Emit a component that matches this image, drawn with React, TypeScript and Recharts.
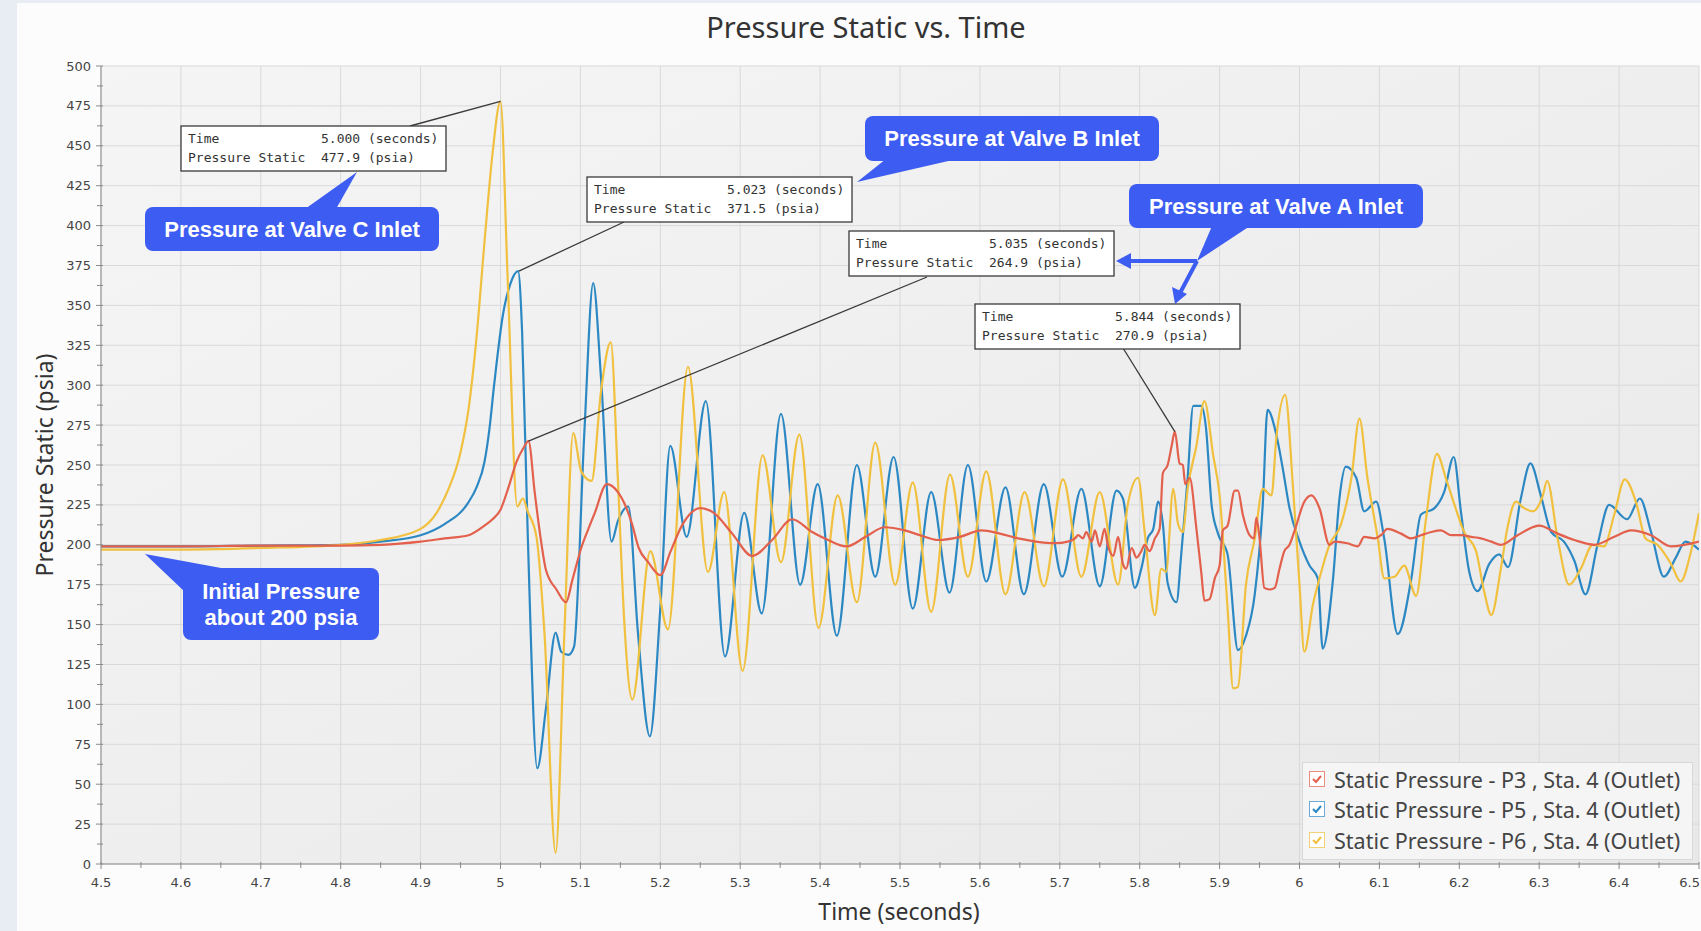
import React from "react";
import {
  LineChart,
  Line,
  XAxis,
  YAxis,
  CartesianGrid,
  Legend,
  ReferenceDot,
} from "recharts";

// axis ticks
const xMajorTicks = [4.5, 4.6, 4.7, 4.8, 4.9, 5, 5.1, 5.2, 5.3, 5.4, 5.5, 5.6, 5.7, 5.8, 5.9, 6, 6.1, 6.2, 6.3, 6.4, 6.5];
const yMajorTicks = [0, 25, 50, 75, 100, 125, 150, 175, 200, 225, 250, 275, 300, 325, 350, 375, 400, 425, 450, 475, 500];
const xMinorTicks = xMajorTicks.slice(1).map((v, i) => Math.round((v + xMajorTicks[i]) * 50) / 100);
const yMinorTicks = yMajorTicks.slice(1).map((v, i) => (v + yMajorTicks[i]) / 2);
const xAllTicks = [...xMajorTicks, ...xMinorTicks].sort((a, b) => a - b);
const yAllTicks = [...yMajorTicks, ...yMinorTicks].sort((a, b) => a - b);

// P3 (red)
const p3Time = [
  4.5, 4.6, 4.7, 4.8, 4.85, 4.9, 4.93, 4.96, 4.98, 4.99, 5.0, 5.01, 5.02, 5.028, 5.035, 5.043, 5.05, 5.057, 5.07, 5.082,
  5.09, 5.101, 5.11, 5.118, 5.133, 5.147, 5.155, 5.164, 5.173, 5.185, 5.2, 5.213, 5.227, 5.25, 5.267, 5.29, 5.315, 5.34,
  5.365, 5.39, 5.41, 5.433, 5.457, 5.481, 5.506, 5.525, 5.548, 5.575, 5.602, 5.625, 5.648, 5.67, 5.694, 5.71, 5.719, 5.723,
  5.729, 5.733, 5.74, 5.744, 5.75, 5.756, 5.76, 5.767, 5.773, 5.779, 5.783, 5.79, 5.796, 5.802, 5.806, 5.8125, 5.819, 5.825,
  5.829, 5.835, 5.84, 5.844, 5.85, 5.854, 5.857, 5.8625, 5.871, 5.877, 5.881, 5.8875, 5.894, 5.9, 5.904, 5.91, 5.919, 5.923,
  5.929, 5.9375, 5.943, 5.946, 5.95, 5.956, 5.9625, 5.969, 5.975, 5.981, 5.9875, 5.994, 6.006, 6.015, 6.025, 6.0375, 6.044,
  6.06, 6.073, 6.081, 6.094, 6.102, 6.11, 6.127, 6.14, 6.152, 6.165, 6.177, 6.19, 6.202, 6.215, 6.227, 6.24, 6.252, 6.273,
  6.3, 6.323, 6.344, 6.369, 6.394, 6.415, 6.44, 6.465, 6.5,
];
const p3Value = [
  199, 199, 199.5, 199.5, 200, 202, 204, 206, 212, 216, 222, 236, 252, 260, 264.9, 232, 205, 184, 172, 164,
  178, 198, 210, 220, 238, 233, 226, 214, 198, 189, 181, 196, 212, 223, 220, 207, 193, 203,
  216, 208, 203, 199, 205, 211, 209, 206, 203, 205, 209, 207, 204, 202, 201, 202, 204, 206,
  204, 208, 202, 209, 199, 210, 200, 193, 205, 188, 185, 198, 192, 196, 200, 196, 204, 210,
  245, 250, 262, 270.9, 251, 250, 238, 242, 210, 183, 165, 166, 179, 187, 209, 212, 234, 234,
  219, 206, 204, 217, 204, 173, 172, 173, 185, 196, 200, 209, 227, 231, 223, 200, 202,
  201, 199, 205, 204, 206, 210, 207, 204, 206, 208, 209, 206, 206, 205, 204, 202, 200, 206,
  212, 207, 203, 200, 205, 209, 206, 199, 202,
];

// P5 (blue)
const p5Time = [
  4.5, 4.6, 4.7, 4.8, 4.85, 4.9, 4.93, 4.959, 4.97, 4.98, 4.986, 4.992, 5.003, 5.012, 5.022, 5.027, 5.034, 5.046, 5.057, 5.069, 5.076,
  5.085, 5.092, 5.105, 5.116, 5.126, 5.139, 5.147, 5.16, 5.172, 5.187, 5.2, 5.2125, 5.233, 5.257, 5.281, 5.305, 5.327,
  5.351, 5.375, 5.397, 5.421, 5.446, 5.469, 5.492, 5.516, 5.539, 5.562, 5.585, 5.608, 5.632, 5.655, 5.68, 5.703, 5.727,
  5.75, 5.771, 5.779, 5.794, 5.802, 5.81, 5.817, 5.823, 5.829, 5.835, 5.846, 5.852, 5.86, 5.867, 5.877, 5.883, 5.89,
  5.898, 5.91, 5.923, 5.933, 5.944, 5.954, 5.96, 5.971, 5.979, 5.9875, 6.0, 6.0125, 6.023, 6.029, 6.042, 6.05, 6.058,
  6.071, 6.081, 6.096, 6.106, 6.123, 6.14, 6.152, 6.169, 6.181, 6.193, 6.202, 6.2125, 6.223, 6.2375, 6.25, 6.261, 6.277,
  6.289, 6.302, 6.315, 6.331, 6.344, 6.358, 6.373, 6.3875, 6.41, 6.426, 6.44, 6.456, 6.471, 6.483, 6.5,
];
const p5Value = [
  199, 199, 199.5, 200, 202, 206, 213, 226, 236, 252, 272, 300, 344, 363, 371.5, 334, 208, 60, 98, 145, 133,
  131, 136, 271, 364, 303, 202, 215, 224, 145, 80, 160, 262, 205, 290, 130, 220, 157,
  282, 175, 238, 143, 250, 180, 255, 160, 233, 170, 250, 177, 236, 169, 238, 180, 235,
  174, 234, 229, 173, 185, 204, 210, 227, 213, 176, 164, 194, 242, 287, 287, 273, 225,
  207, 194, 134, 143, 169, 225, 284.5, 269, 248, 223, 202, 187, 179, 135, 179, 229, 249,
  242, 221, 227, 204, 144, 179, 219, 223, 233, 255, 221, 183, 171, 188, 194, 186, 229,
  251, 231, 208, 202, 190, 169, 200, 225, 216, 229, 208, 180, 192, 202, 197,
];

// P6 (yellow)
const p6Time = [
  4.5, 4.6, 4.7, 4.8, 4.85, 4.9, 4.92, 4.935, 4.95, 4.96, 4.97, 4.98, 4.99, 5.0, 5.009, 5.021, 5.028, 5.034, 5.045, 5.055, 5.069,
  5.08, 5.091, 5.101, 5.114, 5.126, 5.138, 5.147, 5.155, 5.165, 5.1875, 5.2096, 5.2346, 5.2596, 5.28, 5.303, 5.328, 5.351,
  5.374, 5.398, 5.422, 5.446, 5.469, 5.494, 5.516, 5.539, 5.5625, 5.585, 5.608, 5.632, 5.656, 5.68, 5.704, 5.727, 5.75,
  5.773, 5.785, 5.798, 5.806, 5.819, 5.827, 5.833, 5.842, 5.848, 5.854, 5.86, 5.871, 5.881, 5.892, 5.9, 5.91, 5.917, 5.923,
  5.933, 5.944, 5.954, 5.965, 5.971, 5.982, 5.992, 6.0, 6.006, 6.017, 6.025, 6.0375, 6.052, 6.065, 6.075, 6.085, 6.098,
  6.106, 6.119, 6.131, 6.146, 6.158, 6.172, 6.183, 6.194, 6.206, 6.221, 6.231, 6.24, 6.252, 6.26, 6.271, 6.281, 6.292,
  6.304, 6.31, 6.323, 6.3375, 6.352, 6.367, 6.381, 6.394, 6.407, 6.421, 6.433, 6.448, 6.465, 6.477, 6.49, 6.5,
];
const p6Value = [
  197, 197, 198, 200, 203, 210, 220, 235, 258, 285, 330, 390, 445, 477.9, 366, 224, 229, 221, 205, 145, 7,
  145, 270, 246, 240, 297, 327, 240, 151, 103, 196, 147, 311.5, 183, 233, 121, 256, 189,
  269, 148, 231, 164, 264, 175, 239, 158, 244, 180, 246, 169, 233, 174, 241, 180, 233,
  175, 225, 242, 209, 156, 185, 183, 235, 213, 208, 235, 262, 290, 256, 231, 160, 110, 111,
  175, 204, 235, 231, 267, 294, 235, 175, 133, 163, 179, 200, 213, 242, 279, 242, 204,
  179, 180, 187, 168, 215, 257, 242, 225, 208, 196, 171, 156, 185, 210, 227, 223, 221,
  230, 240, 204, 175, 185, 200, 199, 219, 241, 227, 204, 200, 188, 177, 196, 220,
];

// readouts shown in the data boxes
const readoutTime = [5.0, 5.023, 5.035, 5.844];
const readoutValue = [477.9, 371.5, 264.9, 270.9];

const RED = "#E2604C";
const BLUE = "#2C88C3";
const YELLOW = "#F0C03E";
const CALLOUT = "#3D5CF2";

const toPoints = (ts: number[], ps: number[]) => ts.map((t, i) => ({ t, p: ps[i] }));

const series = [
  { name: "Static Pressure - P5 , Sta. 4 (Outlet)", color: BLUE, data: toPoints(p5Time, p5Value) },
  { name: "Static Pressure - P6 , Sta. 4 (Outlet)", color: YELLOW, data: toPoints(p6Time, p6Value) },
  { name: "Static Pressure - P3 , Sta. 4 (Outlet)", color: RED, data: toPoints(p3Time, p3Value) },
];

// boxes in page pixels
const boxes = [
  { x: 181, y: 126, lx: 410, ly: 126 },
  { x: 587, y: 177, lx: 624, ly: 222 },
  { x: 849, y: 231, lx: 927, ly: 277 },
  { x: 975, y: 304, lx: 1123, ly: 348 },
];
const BOX_W = 265;
const BOX_H = 45;

const isMajor = (v: number, step: number) => Math.abs(v / step - Math.round(v / step)) < 1e-6;

const XTick = (props: any) => {
  const { x, y, payload } = props;
  const major = isMajor(payload.value, 0.1);
  // keep the last label inside the page
  const nearEdge = x + 12 > 1700;
  return (
    <g>
      <line x1={x} x2={x} y1={y - 2} y2={y + (major ? 5 : 4)} stroke="#8a8a8a" />
      {major && (
        <text x={nearEdge ? 1700 : x} y={y + 23} textAnchor={nearEdge ? "end" : "middle"} fontSize={13} fill="#444" fontFamily="DejaVu Sans">
          {String(payload.value)}
        </text>
      )}
    </g>
  );
};

const YTick = (props: any) => {
  const { x, y, payload } = props;
  const major = isMajor(payload.value, 25);
  return (
    <g>
      <line x1={x - (major ? 5 : 4)} x2={x + 2} y1={y} y2={y} stroke="#8a8a8a" />
      {major && (
        <text x={x - 10} y={y + 4.5} textAnchor="end" fontSize={13} fill="#444" fontFamily="DejaVu Sans">
          {payload.value}
        </text>
      )}
    </g>
  );
};

const yTitle = (props: any) => {
  const { x, y, height } = props.viewBox;
  const cx = x + 3;
  const cy = y + height / 2;
  return (
    <text x={cx} y={cy} transform={`rotate(-90 ${cx} ${cy})`} textAnchor="middle" dominantBaseline="central"
      fontSize={23} fill="#333" fontFamily="Noto Sans">
      Pressure Static (psia)
    </text>
  );
};

const xTitle = (props: any) => {
  const { x, y, width } = props.viewBox;
  return (
    <text x={x + width / 2 - 1} y={y + 47} textAnchor="middle" dominantBaseline="central"
      fontSize={23} fill="#333" fontFamily="Noto Sans">
      Time (seconds)
    </text>
  );
};

const renderLegend = (props: any) => {
  const items = [...(props.payload || [])].sort((a: any, b: any) => String(a.value).localeCompare(String(b.value)));
  return (
    <div style={{ background: "#f5f5f5", border: "1px solid #d8d8d8", padding: "1px 0 3px 6px", boxSizing: "border-box" }}>
      {items.map((it: any) => (
        <div key={it.value} style={{ display: "flex", alignItems: "center", height: 30.5 }}>
          <svg width={17} height={17} style={{ marginRight: 8 }}>
            <rect x={0.5} y={0.5} width={15} height={15} fill="#fff" stroke={it.color} strokeOpacity={0.7} />
            <path d="M4 8 L7 11 L12 5" fill="none" stroke={it.color} strokeWidth={2} />
          </svg>
          <span style={{ fontFamily: "Noto Sans", fontSize: 21.5, color: "#444", whiteSpace: "nowrap" }}>{it.value}</span>
        </div>
      ))}
    </div>
  );
};

const leader = (lx: number, ly: number) => (props: any) => (
  <line x1={props.cx} y1={props.cy} x2={lx} y2={ly} stroke="#3a3a3a" strokeWidth={1.3} />
);

const Callout = ({ x, y, w, h, tail, lines }: { x: number; y: number; w: number; h: number; tail: string; lines: string[] }) => (
  <g>
    <polygon points={tail} fill={CALLOUT} />
    <rect x={x} y={y} width={w} height={h} rx={8} fill={CALLOUT} />
    {lines.map((s, i) => (
      <text key={s} x={x + w / 2} y={y + h / 2 + (i - (lines.length - 1) / 2) * 26} textAnchor="middle"
        dominantBaseline="central" fill="#fff" fontSize={22} fontWeight="bold" fontFamily="Liberation Sans">
        {s}
      </text>
    ))}
  </g>
);

export default function App() {
  return (
    <div style={{ position: "absolute", left: 0, top: 0, width: 1701, height: 931, overflow: "hidden", background: "#e8edf3" }}>
      <div style={{ position: "absolute", left: 17, top: 3, width: 1700, height: 928, background: "#fcfcfc" }} />
      <div style={{ position: "absolute", left: 866, top: 8, transform: "translateX(-50%)", fontFamily: "Noto Sans", fontSize: 29, color: "#333", whiteSpace: "nowrap", lineHeight: "38px" }}>
        Pressure Static vs. Time
      </div>
      <div style={{ position: "absolute", left: 0, top: 0 }}>
        <LineChart width={1700} height={931} margin={{ top: 66, right: 1, bottom: 37, left: 41 }}>
          <defs>
            <linearGradient id="plotBg" x1="0" y1="0" x2="1" y2="1">
              <stop offset="0%" stopColor="#f5f5f5" />
              <stop offset="100%" stopColor="#e8e8e8" />
            </linearGradient>
          </defs>
          <CartesianGrid fill="url(#plotBg)" stroke="#d9d9d9" horizontalValues={yMajorTicks} verticalValues={xMajorTicks} />
          <XAxis dataKey="t" type="number" domain={[4.5, 6.5]} ticks={xAllTicks} interval={0} allowDataOverflow
            height={30} tickSize={0} tickMargin={0} tick={<XTick />} axisLine={{ stroke: "#8a8a8a" }} label={xTitle} />
          <YAxis type="number" domain={[0, 500]} ticks={yAllTicks} interval={0} allowDataOverflow
            width={60} tickSize={0} tickMargin={0} tick={<YTick />} axisLine={{ stroke: "#8a8a8a" }} label={yTitle} />
          {series.map((s) => (
            <Line key={s.name} data={s.data} dataKey="p" name={s.name} type="monotone" stroke={s.color}
              strokeWidth={2.2} dot={false} activeDot={false} isAnimationActive={false} />
          ))}
          {readoutTime.map((t, i) => (
            <ReferenceDot key={t} x={t} y={readoutValue[i]} r={0} ifOverflow="visible" shape={leader(boxes[i].lx, boxes[i].ly)} />
          ))}
          <Legend layout="vertical" align="center" verticalAlign="middle" content={renderLegend}
            wrapperStyle={{ left: 1302, top: 762, width: 391 }} />
        </LineChart>
      </div>
      <svg width={1701} height={931} style={{ position: "absolute", left: 0, top: 0, pointerEvents: "none" }}>
        {boxes.map((b, i) => (
          <g key={i}>
            <rect x={b.x} y={b.y} width={BOX_W} height={BOX_H} fill="#fff" stroke="#3a3a3a" strokeWidth={1.3} />
            <text x={b.x + 7} y={b.y + 17} fontSize={13} fontFamily="DejaVu Sans Mono" fill="#333">Time</text>
            <text x={b.x + 7} y={b.y + 36} fontSize={13} fontFamily="DejaVu Sans Mono" fill="#333">Pressure Static</text>
            <text x={b.x + 140} y={b.y + 17} fontSize={13} fontFamily="DejaVu Sans Mono" fill="#333">
              {readoutTime[i].toFixed(3)} (seconds)
            </text>
            <text x={b.x + 140} y={b.y + 36} fontSize={13} fontFamily="DejaVu Sans Mono" fill="#333">
              {readoutValue[i].toFixed(1)} (psia)
            </text>
          </g>
        ))}
        <Callout x={145} y={207} w={294} h={44} tail="305,209 336,209 357,172" lines={["Pressure at Valve C Inlet"]} />
        <Callout x={865} y={116} w={294} h={45} tail="886,159 957,159 857,182" lines={["Pressure at Valve B Inlet"]} />
        <Callout x={1129} y={184} w={294} h={44} tail="1212,226 1250,226 1197,261" lines={["Pressure at Valve A Inlet"]} />
        <Callout x={183} y={568} w={196} h={72} tail="145,554 232,570 185,592" lines={["Initial Pressure", "about 200 psia"]} />
        <line x1={1197} y1={261} x2={1128} y2={261} stroke={CALLOUT} strokeWidth={4} />
        <polygon points="1116,261 1131,253 1131,269" fill={CALLOUT} />
        <line x1={1197} y1={261} x2={1180} y2={293} stroke={CALLOUT} strokeWidth={4} />
        <polygon points="1175,304 1172,287 1187,294" fill={CALLOUT} />
      </svg>
    </div>
  );
}
